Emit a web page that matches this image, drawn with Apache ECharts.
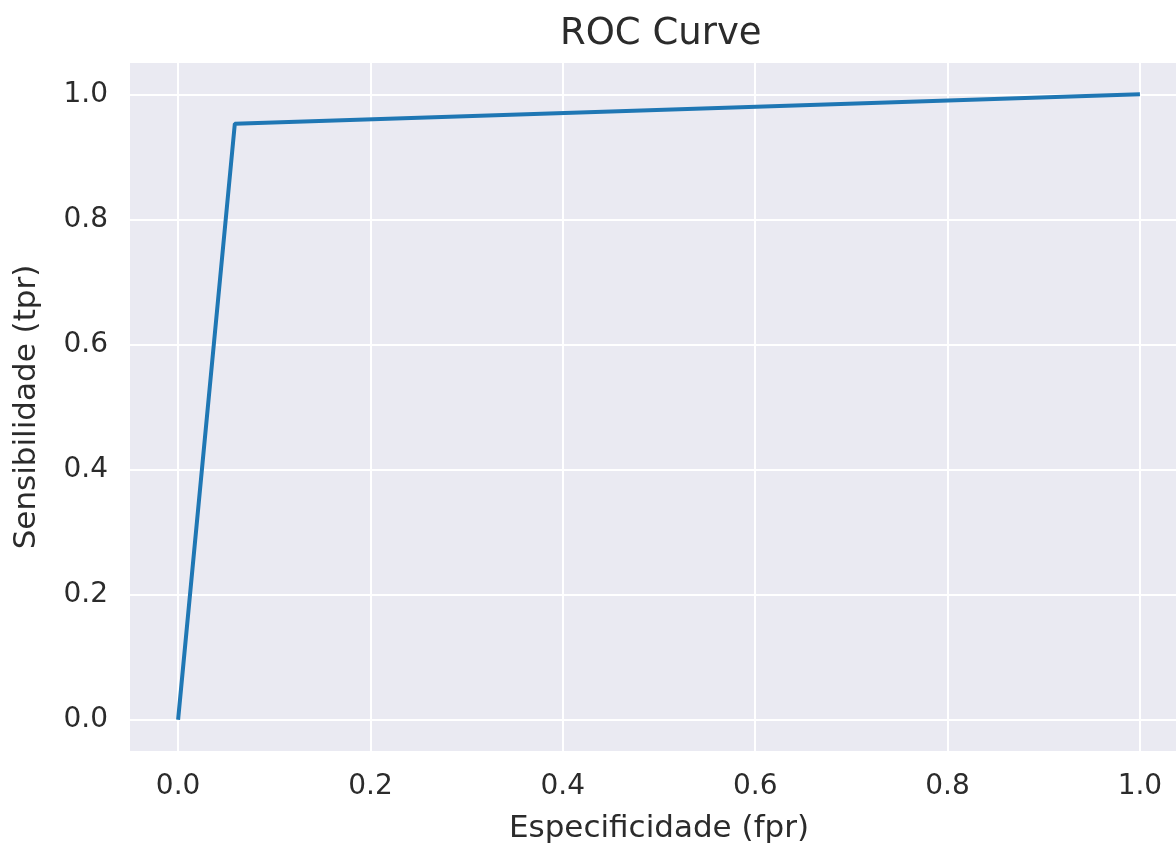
<!DOCTYPE html>
<html>
<head>
<meta charset="utf-8">
<script src="https://cdn.jsdelivr.net/npm/echarts@6/dist/echarts.min.js"></script>
<style>
  html, body { margin: 0; padding: 0; background: #fff; }
  #roc_chart { width: 1176px; height: 850px; }
</style>
</head>
<body>
<div id="roc_chart"></div>
<script>
// ROC data
var fpr = [0, 0.059, 1];
var tpr = [0, 0.953, 1];
var xTicks = [0, 0.2, 0.4, 0.6, 0.8, 1.0];
var yTicks = [0, 0.2, 0.4, 0.6, 0.8, 1.0];

var roc_chart = echarts.init(document.getElementById('roc_chart'));

var textColor = '#2b2b2b';
var fontFamily = 'DejaVu Sans';

var points = [];
for (var i = 0; i < fpr.length; i++) {
    points.push([fpr[i], tpr[i]]);
}

var option = {
    animation: false,
    backgroundColor: '#fff',
    textStyle: { fontFamily: fontFamily },
    title: {
        text: 'ROC Curve',
        left: 555,
        top: 11,
        textStyle: {
            color: textColor,
            fontFamily: fontFamily,
            fontSize: 37,
            fontWeight: 'normal'
        }
    },
    grid: {
        left: 130,
        top: 63,
        width: 1058,
        height: 688,
        outerBoundsMode: 'none',
        containLabel: false,
        show: true,
        backgroundColor: '#EAEAF2',
        borderWidth: 0
    },
    xAxis: {
        type: 'value',
        min: -0.05,
        max: 1.05,
        name: 'Especificidade (fpr)',
        nameLocation: 'middle',
        nameGap: 62,
        nameTextStyle: {
            color: textColor,
            fontSize: 31,
            fontFamily: fontFamily
        },
        axisLine: { show: false },
        axisTick: { show: false, customValues: xTicks },
        axisLabel: {
            customValues: xTicks,
            color: textColor,
            fontSize: 28,
            fontFamily: fontFamily,
            margin: 22,
            formatter: function (v) { return v.toFixed(1); }
        },
        splitLine: {
            show: true,
            lineStyle: { color: '#fff', width: 2 }
        }
    },
    yAxis: {
        type: 'value',
        min: -0.05,
        max: 1.05,
        name: 'Sensibilidade (tpr)',
        nameLocation: 'middle',
        nameGap: 88,
        nameTextStyle: {
            color: textColor,
            fontSize: 31,
            fontFamily: fontFamily
        },
        axisLine: { show: false },
        axisTick: { show: false, customValues: yTicks },
        axisLabel: {
            customValues: yTicks,
            color: textColor,
            fontSize: 28,
            fontFamily: fontFamily,
            margin: 22,
            formatter: function (v) { return v.toFixed(1); }
        },
        splitLine: {
            show: true,
            lineStyle: { color: '#fff', width: 2 }
        }
    },
    series: [
        {
            type: 'line',
            data: points,
            showSymbol: false,
            symbol: 'none',
            lineStyle: { color: '#1f77b4', width: 4 },
            itemStyle: { color: '#1f77b4' }
        }
    ]
};

roc_chart.setOption(option);
</script>
</body>
</html>
